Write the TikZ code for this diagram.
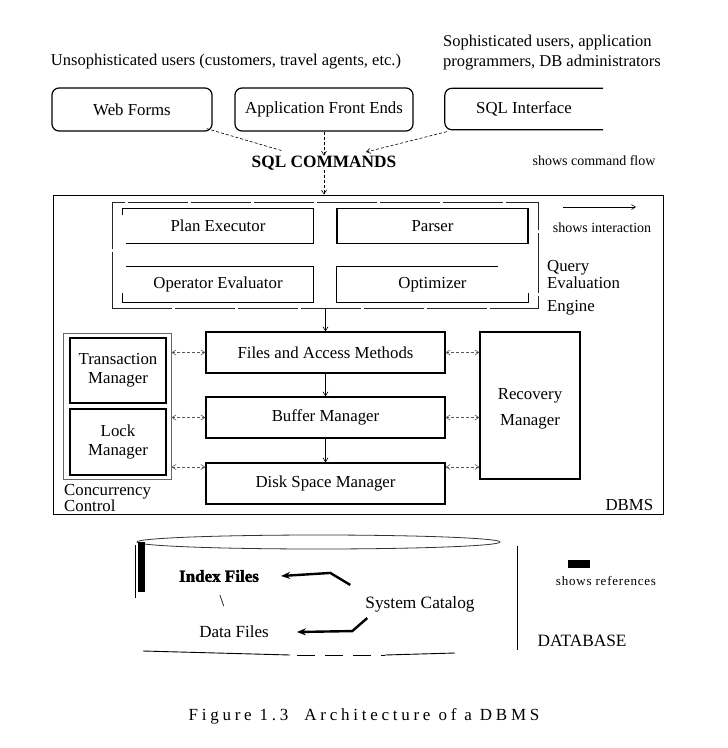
\documentclass[tikz,border=0pt]{standalone}
\usepackage{fontspec}
\setmainfont{Liberation Serif}
\usetikzlibrary{arrows.meta}
\tikzset{
  lbl/.style={inner sep=0pt, font=\fontsize{16.8}{19}\selectfont, align=center},
  boxA/.style={lbl, draw, line width=1.2pt},
  ghost/.style={lbl},
  flow/.style={densely dashed, line width=0.6pt, -{Straight Barb[length=4pt,width=5pt]}},
  flowline/.style={densely dashed, line width=0.6pt},
  inter/.style={densely dashed, line width=0.6pt, gray!70!black, {Straight Barb[length=4pt,width=5pt]}-{Straight Barb[length=4pt,width=5pt]}},
  down/.style={line width=0.6pt, -{Straight Barb[length=4pt,width=5pt]}},
  refarr/.style={line width=2.4pt, -{Stealth[length=9pt,width=7pt]}},
  partial/.style={line width=1.2pt},
}
\begin{document}
\begin{tikzpicture}[x=1pt,y=-1pt]
\useasboundingbox (0,0) rectangle (728,748);

% --- user texts
\node[lbl, font=\fontsize{16.5}{19}\selectfont] (unsoph) at (226,62) {Unsophisticated users (customers, travel agents, etc.)};
\node[lbl, anchor=west, align=left, font=\fontsize{16.5}{20}\selectfont] (soph) at (443,53) {Sophisticated users, application\\programmers, DB administrators};

% --- interfaces
\node[boxA, rounded corners=7pt, minimum width=160, minimum height=43] (webforms) at (132,109.5) {Web Forms};
\node[boxA, rounded corners=7pt, minimum width=178, minimum height=43] (appfront) at (324,109.5) {Application Front Ends};
\node[ghost, minimum width=158, minimum height=41] (sqlint) at (524,109) {SQL Interface};
\draw[partial, rounded corners=7pt] (sqlint.north east) -- (sqlint.north west) -- (sqlint.south west) -- (sqlint.south east);

\node[lbl, font=\bfseries\fontsize{17.3}{19}\selectfont] (sqlcmd) at (324,163) {SQL COMMANDS};
\node[lbl, font=\fontsize{14}{17}\selectfont] (cmdflow) at (594,161) {shows command flow};

\coordinate (wfend) at (283,151);
\coordinate (siend) at (366,152);
\draw[flowline] ([xshift=-6,yshift=3]webforms.south east) -- (wfend);
\draw[flow] ([xshift=2,yshift=-2]sqlint.south west) -- (siend);
\draw[flow] (appfront.south) -- (sqlcmd.north);

% --- DBMS box
\node[draw, line width=0.8pt, minimum width=610, minimum height=319] (dbms) at (358,354.5) {};
\node[lbl, anchor=south east] (dbmslbl) at ([xshift=-10,yshift=4]dbms.south east) {DBMS};
\draw[flow] (sqlcmd.south) -- (sqlcmd.south |- dbms.north);

% --- Query evaluation engine
\node[draw, line width=0.7pt, gray!30!black, dash pattern=on 60pt off 3pt, minimum width=426, minimum height=106] (qee) at (325,255) {};
\node[ghost, minimum width=190, minimum height=35] (planex) at (218,226) {Plan Executor};
\draw[partial] ([yshift=-7]planex.north west) -- (planex.north west) -- (planex.north east) -- (planex.south east) -- ([xshift=3]planex.south west);
\node[boxA, minimum width=191, minimum height=35] (parser) at (432.5,226) {Parser};
\node[ghost, minimum width=190, minimum height=36] (opeval) at (218,284.5) {Operator Evaluator};
\draw[partial] ([xshift=3]opeval.north west) -- (opeval.north east) -- (opeval.south east) -- (opeval.south west) -- ([yshift=10]opeval.south west);
\node[ghost, minimum width=191, minimum height=36] (optim) at (432.5,284.5) {Optimizer};
\draw[partial] ([xshift=161]optim.north west) -- (optim.north west) -- (optim.south west) -- (optim.south east) -- ([yshift=10]optim.south east);
\node[lbl, anchor=west, align=left, font=\fontsize{16.8}{17}\selectfont] (qeelbl) at (547,275) {Query\\Evaluation};
\node[lbl, anchor=west] (qeelbl2) at (547,308) {Engine};

% legend interaction
\coordinate (legA) at (563,207);
\coordinate (legB) at (636,207);
\draw[down] (legA) -- (legB);
\node[lbl, font=\fontsize{14}{17}\selectfont] (interlbl) at (602,228) {shows interaction};

% --- storage layers
\node[boxA, minimum width=239, minimum height=41] (files) at (325.5,352.5) {Files and Access Methods};
\node[boxA, minimum width=239, minimum height=41] (buffer) at (325.5,417.5) {Buffer Manager};
\node[boxA, minimum width=239, minimum height=41] (disk) at (325.5,483.5) {Disk Space Manager};
\node[boxA, minimum width=100, minimum height=147] (recovery) at (530,405.5) {};
\node[lbl, font=\fontsize{16.8}{26}\selectfont] (recoverytxt) at (530,409) {Recovery\\Manager};

\node[draw, line width=0.9pt, gray!80!black, minimum width=108, minimum height=146] (conc) at (117,406) {};
\node[boxA, minimum width=96, minimum height=65] (trans) at (118,370.5) {Transaction\\Manager};
\node[boxA, minimum width=96, minimum height=66] (lock) at (118,442) {Lock\\Manager};
\node[lbl, anchor=north west, align=left, font=\fontsize{16.8}{14}\selectfont] (conclbl) at (64,484) {Concurrency\\Control};

\draw[down] (files.north |- qee.south) -- (files.north);
\draw[down] (files.south) -- (buffer.north);
\draw[down] (buffer.south) -- (disk.north);

\draw[inter] (conc.east |- files.west) -- (files.west);
\draw[inter] (conc.east |- buffer.west) -- (buffer.west);
\draw[inter] ([yshift=16.5]disk.west -| conc.east) -- ([yshift=16.5]disk.west);
\draw[inter] (files.east) -- (recovery.west |- files.east);
\draw[inter] (buffer.east) -- (recovery.west |- buffer.east);
\draw[inter] ([yshift=16.5]disk.east) -- ([yshift=16.5]disk.east -| recovery.west);

% --- database
\draw[line width=0.8pt, gray!40!black] (318.5,542) ellipse [x radius=181.5, y radius=7];
\fill (138,542) rectangle (145,592);
\draw[line width=0.6pt] (135,545) -- (135,598);
\draw[line width=0.9pt] (143,651) -- (290,655);
\draw[line width=0.9pt, dash pattern=on 18pt off 10pt] (297,655) -- (385,655);
\draw[line width=0.9pt] (385,655) -- (455,653);

\node[lbl, font=\bfseries\addfontfeatures{FakeBold=2}\fontsize{17}{17}\selectfont] (index) at (219,576) {Index Files};
\node[lbl] (bslash) at (222,601) {\textbackslash};
\node[lbl, font=\fontsize{17}{19}\selectfont] (datafiles) at (234,632) {Data Files};
\node[lbl, font=\fontsize{17.3}{19}\selectfont] (syscat) at (420,604) {System Catalog};
\draw[refarr] ([shift={(-15,-11)}]syscat.north west) -- ++(-20,-12) -- ([xshift=22]index.east);
\draw[refarr] ([shift={(2,6)}]syscat.south west) -- ++(-15,13) -- ([xshift=28]datafiles.east);

\draw[line width=0.9pt] (517,546) -- (517,650);
\fill (568,560) rectangle (590,568);
\node[lbl, font=\addfontfeatures{LetterSpace=6}\fontsize{13}{16}\selectfont] (refslbl) at (606,581) {shows references};
\node[lbl, font=\fontsize{17.3}{19}\selectfont] (dblbl) at (582,641) {DATABASE};

% --- caption
\node[lbl, font=\addfontfeatures{LetterSpace=22}\fontsize{17}{19}\selectfont] (caption) at (364,716) {Figure 1.3\ \ Architecture of a DBMS};
\end{tikzpicture}
\end{document}
